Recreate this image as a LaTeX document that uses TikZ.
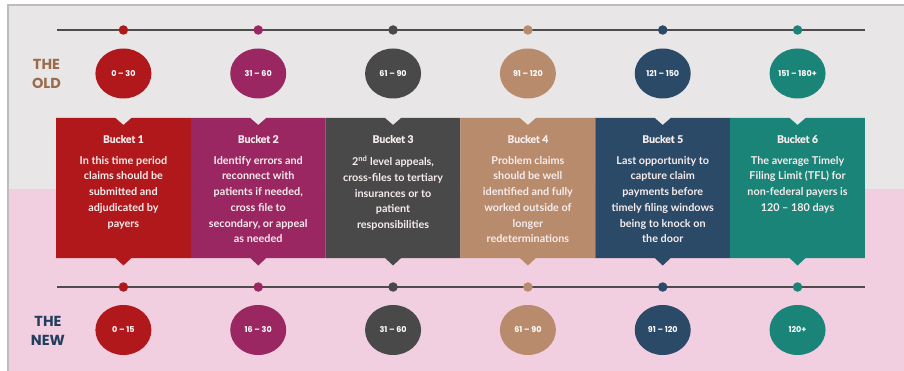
\documentclass[tikz,border=0pt]{standalone}
\usepackage{fontspec}
\setmainfont{Lato}
\newfontfamily\popfont{Poppins}
\newfontfamily\latoheavy{Lato}[BoldFeatures={FakeBold=1.2}]
\usetikzlibrary{shapes.geometric}
\definecolor{cA}{HTML}{B0181B}
\definecolor{cB}{HTML}{9A2762}
\definecolor{cC}{HTML}{4A4949}
\definecolor{cD}{HTML}{B98B6D}
\definecolor{cE}{HTML}{2B4A68}
\definecolor{cF}{HTML}{198477}
\definecolor{bgtop}{HTML}{E8E6E7}
\definecolor{bgbot}{HTML}{F1CEE0}
\definecolor{framec}{HTML}{BDBDBD}
\definecolor{linec}{HTML}{4D4B4C}
\definecolor{oldc}{HTML}{9B6C4B}
\definecolor{newc}{HTML}{243F5D}
\definecolor{txtc}{HTML}{F6ECEC}
\tikzset{
  dotnode/.style={circle,fill=#1,minimum size=9.5pt,inner sep=0pt},
  rangenode/.style={ellipse,fill=#1,minimum width=56pt,minimum height=50pt,inner sep=0pt,
     text=white,font=\popfont\bfseries\fontsize{8}{9}\selectfont},
  titlenode/.style={text=txtc,font=\latoheavy\bfseries\fontsize{10.4}{12}\selectfont,inner sep=0pt},
  bodynode/.style={text=txtc,font=\bfseries\fontsize{10.8}{15.7}\selectfont,align=center,inner sep=0pt,anchor=north},
  tlline/.style={draw=linec,line width=2.2pt},
  sidelabel/.style={font=\popfont\bfseries\fontsize{14.5}{19}\selectfont,align=center,inner sep=0pt}
}
\begin{document}
\begin{tikzpicture}[x=1pt,y=-1pt]
\useasboundingbox (0,0) rectangle (904,371);
% backgrounds
\fill[white] (0,0) rectangle (904,371);
\fill[bgtop] (8,5) rectangle (904,189);
\fill[bgbot] (8,189) rectangle (904,371);
\draw[framec,line width=1.2pt] (8,371) -- (8,5) -- (904,5);
% timelines
\coordinate (tl1) at (57,30);
\coordinate (tr1) at (865,30);
\coordinate (tl2) at (57,287);
\coordinate (tr2) at (865,287);
\draw[tlline] (tl1) -- (tr1);
\draw[tlline] (tl2) -- (tr2);
% side labels
\node[sidelabel,text=oldc] (old) at (46.5,73.5) {THE\\OLD};
\node[sidelabel,text=newc] (new) at (48,330.5) {THE\\NEW};
% buckets
\foreach \i/\col/\oldr/\newr/\body [count=\k from 0] in {
 1/cA/{0 – 30}/{0 – 15}/{In this time period\\claims should be\\submitted and\\adjudicated by\\payers},
 2/cB/{31 – 60}/{16 – 30}/{Identify errors and\\reconnect with\\patients if needed,\\cross file to\\secondary, or appeal\\as needed},
 3/cC/{61 – 90}/{31 – 60}/{2\textsuperscript{nd} level appeals,\\cross-files to tertiary\\insurances or to\\patient\\responsibilities},
 4/cD/{91 – 120}/{61 – 90}/{Problem claims\\should be well\\identified and fully\\worked outside of\\longer\\redeterminations},
 5/cE/{121 – 150}/{91 – 120}/{Last opportunity to\\capture claim\\payments before\\timely filing windows\\being to knock on\\the door},
 6/cF/{151 – 180+}/{120+}/{The average Timely\\Filing Limit (TFL) for\\non-federal payers is\\120 – 180 days}}
{
  \pgfmathsetmacro{\xa}{56+134.83*\k}
  \pgfmathsetmacro{\xb}{\xa+134.83}
  \pgfmathsetmacro{\cx}{\xa+67.4}
  \fill[\col] (\xa,118) -- (\cx-8,118) -- (\cx,125) -- (\cx+8,118) -- (\xb,118)
     -- (\xb,258) -- (\cx+8,258) -- (\cx,265.5) -- (\cx-8,258) -- (\xa,258) -- cycle;
  \node[titlenode] (t\i) at (\cx,139) {Bucket \i};
  \node[bodynode] (b\i) at (\cx,156) {\body};
  \node[dotnode=\col] (d\i) at (\cx,30) {};
  \node[dotnode=\col] (e\i) at (\cx,287) {};
  \node[rangenode=\col] (o\i) at (\cx,73.5) {\oldr};
  \node[rangenode=\col] (n\i) at (\cx,330) {\newr};
}
\end{tikzpicture}
\end{document}
